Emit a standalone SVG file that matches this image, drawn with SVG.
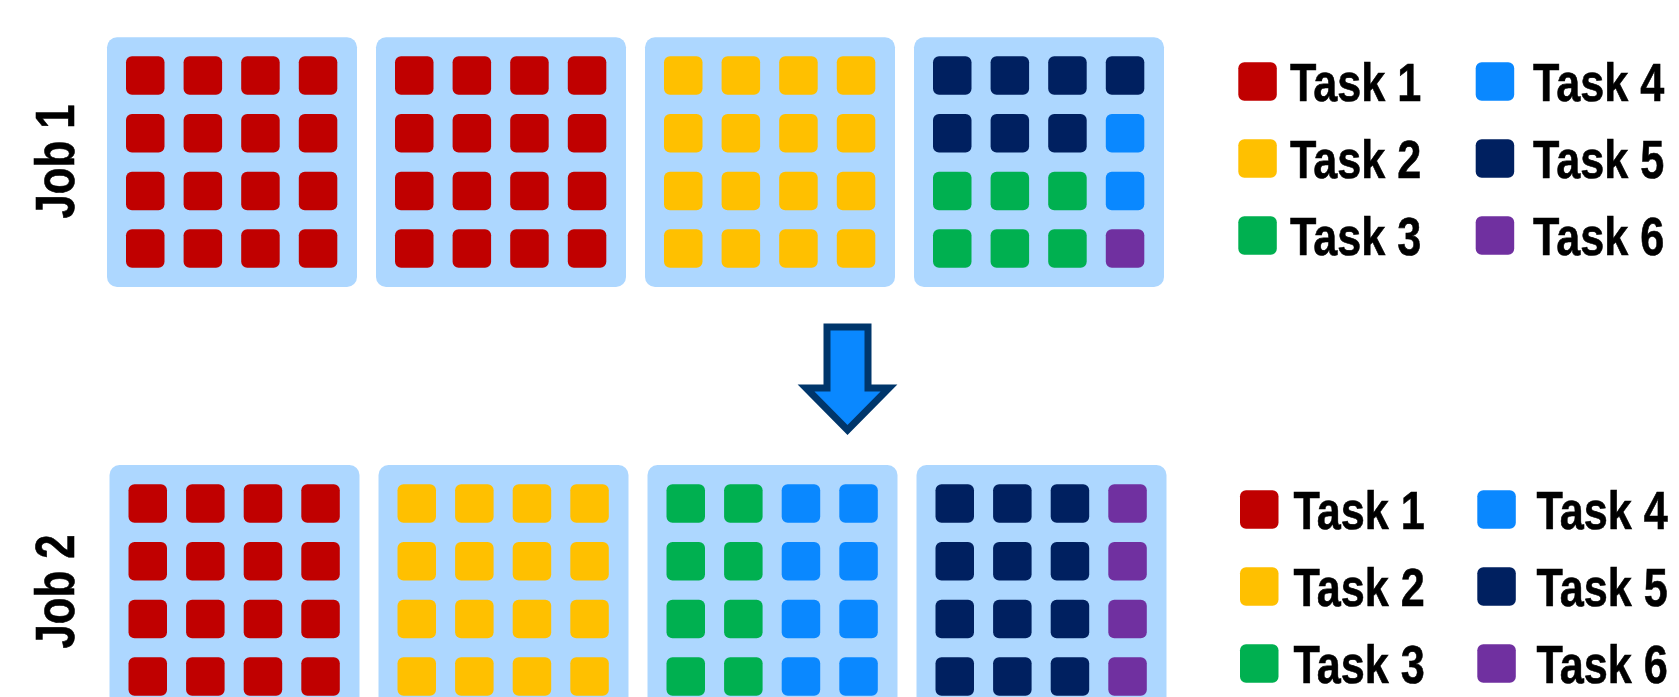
<svg xmlns="http://www.w3.org/2000/svg" width="1679" height="697" viewBox="0 0 1679 697">
<defs>
<style>
.panel{fill:#ADD7FF}
.r{fill:#C00000}.y{fill:#FFC000}.g{fill:#00B050}.b{fill:#0A88FF}.n{fill:#002060}.p{fill:#7030A0}
.lbl{font-family:"Liberation Sans",Arial,sans-serif;font-weight:bold;fill:#000;stroke:#000;stroke-width:0.6px}
.task{font-size:54px}
.job{font-size:56px}
</style>
</defs>
<rect width="1679" height="697" fill="#fff"/>

<g id="job1-label"><text class="lbl job" transform="translate(73.5,161.5) rotate(-90) scale(0.78,1)" text-anchor="middle">Job 1</text></g>
<g id="job2-label"><text class="lbl job" transform="translate(73.5,591.5) rotate(-90) scale(0.78,1)" text-anchor="middle">Job 2</text></g>

<!-- Job 1 panels -->
<g id="job1-node1" transform="translate(107,37.3)">
<rect class="panel" width="250" height="249.7" rx="10"/>
<g class="r">
<rect x="19" y="19" width="38.5" height="38.5" rx="6"/><rect x="76.6" y="19" width="38.5" height="38.5" rx="6"/><rect x="134.2" y="19" width="38.5" height="38.5" rx="6"/><rect x="191.8" y="19" width="38.5" height="38.5" rx="6"/>
<rect x="19" y="76.7" width="38.5" height="38.5" rx="6"/><rect x="76.6" y="76.7" width="38.5" height="38.5" rx="6"/><rect x="134.2" y="76.7" width="38.5" height="38.5" rx="6"/><rect x="191.8" y="76.7" width="38.5" height="38.5" rx="6"/>
<rect x="19" y="134.4" width="38.5" height="38.5" rx="6"/><rect x="76.6" y="134.4" width="38.5" height="38.5" rx="6"/><rect x="134.2" y="134.4" width="38.5" height="38.5" rx="6"/><rect x="191.8" y="134.4" width="38.5" height="38.5" rx="6"/>
<rect x="19" y="192" width="38.5" height="38.5" rx="6"/><rect x="76.6" y="192" width="38.5" height="38.5" rx="6"/><rect x="134.2" y="192" width="38.5" height="38.5" rx="6"/><rect x="191.8" y="192" width="38.5" height="38.5" rx="6"/>
</g>
</g>
<g id="job1-node2" transform="translate(376,37.3)">
<rect class="panel" width="250" height="249.7" rx="10"/>
<g class="r">
<rect x="19" y="19" width="38.5" height="38.5" rx="6"/><rect x="76.6" y="19" width="38.5" height="38.5" rx="6"/><rect x="134.2" y="19" width="38.5" height="38.5" rx="6"/><rect x="191.8" y="19" width="38.5" height="38.5" rx="6"/>
<rect x="19" y="76.7" width="38.5" height="38.5" rx="6"/><rect x="76.6" y="76.7" width="38.5" height="38.5" rx="6"/><rect x="134.2" y="76.7" width="38.5" height="38.5" rx="6"/><rect x="191.8" y="76.7" width="38.5" height="38.5" rx="6"/>
<rect x="19" y="134.4" width="38.5" height="38.5" rx="6"/><rect x="76.6" y="134.4" width="38.5" height="38.5" rx="6"/><rect x="134.2" y="134.4" width="38.5" height="38.5" rx="6"/><rect x="191.8" y="134.4" width="38.5" height="38.5" rx="6"/>
<rect x="19" y="192" width="38.5" height="38.5" rx="6"/><rect x="76.6" y="192" width="38.5" height="38.5" rx="6"/><rect x="134.2" y="192" width="38.5" height="38.5" rx="6"/><rect x="191.8" y="192" width="38.5" height="38.5" rx="6"/>
</g>
</g>
<g id="job1-node3" transform="translate(645,37.3)">
<rect class="panel" width="250" height="249.7" rx="10"/>
<g class="y">
<rect x="19" y="19" width="38.5" height="38.5" rx="6"/><rect x="76.6" y="19" width="38.5" height="38.5" rx="6"/><rect x="134.2" y="19" width="38.5" height="38.5" rx="6"/><rect x="191.8" y="19" width="38.5" height="38.5" rx="6"/>
<rect x="19" y="76.7" width="38.5" height="38.5" rx="6"/><rect x="76.6" y="76.7" width="38.5" height="38.5" rx="6"/><rect x="134.2" y="76.7" width="38.5" height="38.5" rx="6"/><rect x="191.8" y="76.7" width="38.5" height="38.5" rx="6"/>
<rect x="19" y="134.4" width="38.5" height="38.5" rx="6"/><rect x="76.6" y="134.4" width="38.5" height="38.5" rx="6"/><rect x="134.2" y="134.4" width="38.5" height="38.5" rx="6"/><rect x="191.8" y="134.4" width="38.5" height="38.5" rx="6"/>
<rect x="19" y="192" width="38.5" height="38.5" rx="6"/><rect x="76.6" y="192" width="38.5" height="38.5" rx="6"/><rect x="134.2" y="192" width="38.5" height="38.5" rx="6"/><rect x="191.8" y="192" width="38.5" height="38.5" rx="6"/>
</g>
</g>
<g id="job1-node4" transform="translate(914,37.3)">
<rect class="panel" width="250" height="249.7" rx="10"/>
<g class="n">
<rect x="19" y="19" width="38.5" height="38.5" rx="6"/><rect x="76.6" y="19" width="38.5" height="38.5" rx="6"/><rect x="134.2" y="19" width="38.5" height="38.5" rx="6"/><rect x="191.8" y="19" width="38.5" height="38.5" rx="6"/>
<rect x="19" y="76.7" width="38.5" height="38.5" rx="6"/><rect x="76.6" y="76.7" width="38.5" height="38.5" rx="6"/><rect x="134.2" y="76.7" width="38.5" height="38.5" rx="6"/>
</g>
<g class="b">
<rect x="191.8" y="76.7" width="38.5" height="38.5" rx="6"/><rect x="191.8" y="134.4" width="38.5" height="38.5" rx="6"/>
</g>
<g class="g">
<rect x="19" y="134.4" width="38.5" height="38.5" rx="6"/><rect x="76.6" y="134.4" width="38.5" height="38.5" rx="6"/><rect x="134.2" y="134.4" width="38.5" height="38.5" rx="6"/>
<rect x="19" y="192" width="38.5" height="38.5" rx="6"/><rect x="76.6" y="192" width="38.5" height="38.5" rx="6"/><rect x="134.2" y="192" width="38.5" height="38.5" rx="6"/>
</g>
<rect class="p" x="191.8" y="192" width="38.5" height="38.5" rx="6"/>
</g>

<!-- Job 2 panels -->
<g id="job2-node1" transform="translate(109.5,465)">
<rect class="panel" width="250" height="250" rx="10"/>
<g class="r">
<rect x="19" y="19.3" width="38.5" height="38.5" rx="6"/><rect x="76.6" y="19.3" width="38.5" height="38.5" rx="6"/><rect x="134.2" y="19.3" width="38.5" height="38.5" rx="6"/><rect x="191.8" y="19.3" width="38.5" height="38.5" rx="6"/>
<rect x="19" y="77" width="38.5" height="38.5" rx="6"/><rect x="76.6" y="77" width="38.5" height="38.5" rx="6"/><rect x="134.2" y="77" width="38.5" height="38.5" rx="6"/><rect x="191.8" y="77" width="38.5" height="38.5" rx="6"/>
<rect x="19" y="134.7" width="38.5" height="38.5" rx="6"/><rect x="76.6" y="134.7" width="38.5" height="38.5" rx="6"/><rect x="134.2" y="134.7" width="38.5" height="38.5" rx="6"/><rect x="191.8" y="134.7" width="38.5" height="38.5" rx="6"/>
<rect x="19" y="192.3" width="38.5" height="38.5" rx="6"/><rect x="76.6" y="192.3" width="38.5" height="38.5" rx="6"/><rect x="134.2" y="192.3" width="38.5" height="38.5" rx="6"/><rect x="191.8" y="192.3" width="38.5" height="38.5" rx="6"/>
</g>
</g>
<g id="job2-node2" transform="translate(378.5,465)">
<rect class="panel" width="250" height="250" rx="10"/>
<g class="y">
<rect x="19" y="19.3" width="38.5" height="38.5" rx="6"/><rect x="76.6" y="19.3" width="38.5" height="38.5" rx="6"/><rect x="134.2" y="19.3" width="38.5" height="38.5" rx="6"/><rect x="191.8" y="19.3" width="38.5" height="38.5" rx="6"/>
<rect x="19" y="77" width="38.5" height="38.5" rx="6"/><rect x="76.6" y="77" width="38.5" height="38.5" rx="6"/><rect x="134.2" y="77" width="38.5" height="38.5" rx="6"/><rect x="191.8" y="77" width="38.5" height="38.5" rx="6"/>
<rect x="19" y="134.7" width="38.5" height="38.5" rx="6"/><rect x="76.6" y="134.7" width="38.5" height="38.5" rx="6"/><rect x="134.2" y="134.7" width="38.5" height="38.5" rx="6"/><rect x="191.8" y="134.7" width="38.5" height="38.5" rx="6"/>
<rect x="19" y="192.3" width="38.5" height="38.5" rx="6"/><rect x="76.6" y="192.3" width="38.5" height="38.5" rx="6"/><rect x="134.2" y="192.3" width="38.5" height="38.5" rx="6"/><rect x="191.8" y="192.3" width="38.5" height="38.5" rx="6"/>
</g>
</g>
<g id="job2-node3" transform="translate(647.5,465)">
<rect class="panel" width="250" height="250" rx="10"/>
<g class="g">
<rect x="19" y="19.3" width="38.5" height="38.5" rx="6"/><rect x="76.6" y="19.3" width="38.5" height="38.5" rx="6"/>
<rect x="19" y="77" width="38.5" height="38.5" rx="6"/><rect x="76.6" y="77" width="38.5" height="38.5" rx="6"/>
<rect x="19" y="134.7" width="38.5" height="38.5" rx="6"/><rect x="76.6" y="134.7" width="38.5" height="38.5" rx="6"/>
<rect x="19" y="192.3" width="38.5" height="38.5" rx="6"/><rect x="76.6" y="192.3" width="38.5" height="38.5" rx="6"/>
</g>
<g class="b">
<rect x="134.2" y="19.3" width="38.5" height="38.5" rx="6"/><rect x="191.8" y="19.3" width="38.5" height="38.5" rx="6"/>
<rect x="134.2" y="77" width="38.5" height="38.5" rx="6"/><rect x="191.8" y="77" width="38.5" height="38.5" rx="6"/>
<rect x="134.2" y="134.7" width="38.5" height="38.5" rx="6"/><rect x="191.8" y="134.7" width="38.5" height="38.5" rx="6"/>
<rect x="134.2" y="192.3" width="38.5" height="38.5" rx="6"/><rect x="191.8" y="192.3" width="38.5" height="38.5" rx="6"/>
</g>
</g>
<g id="job2-node4" transform="translate(916.5,465)">
<rect class="panel" width="250" height="250" rx="10"/>
<g class="n">
<rect x="19" y="19.3" width="38.5" height="38.5" rx="6"/><rect x="76.6" y="19.3" width="38.5" height="38.5" rx="6"/><rect x="134.2" y="19.3" width="38.5" height="38.5" rx="6"/>
<rect x="19" y="77" width="38.5" height="38.5" rx="6"/><rect x="76.6" y="77" width="38.5" height="38.5" rx="6"/><rect x="134.2" y="77" width="38.5" height="38.5" rx="6"/>
<rect x="19" y="134.7" width="38.5" height="38.5" rx="6"/><rect x="76.6" y="134.7" width="38.5" height="38.5" rx="6"/><rect x="134.2" y="134.7" width="38.5" height="38.5" rx="6"/>
<rect x="19" y="192.3" width="38.5" height="38.5" rx="6"/><rect x="76.6" y="192.3" width="38.5" height="38.5" rx="6"/><rect x="134.2" y="192.3" width="38.5" height="38.5" rx="6"/>
</g>
<g class="p">
<rect x="191.8" y="19.3" width="38.5" height="38.5" rx="6"/><rect x="191.8" y="77" width="38.5" height="38.5" rx="6"/><rect x="191.8" y="134.7" width="38.5" height="38.5" rx="6"/><rect x="191.8" y="192.3" width="38.5" height="38.5" rx="6"/>
</g>
</g>

<!-- Legend Job 1 -->
<g id="legend1">
<g id="legend1-task1"><rect class="r" x="1238.3" y="62.3" width="38.5" height="38.5" rx="6"/><text class="lbl task" transform="translate(1290,100.7) scale(0.8,1)">Task 1</text></g>
<g id="legend1-task2"><rect class="y" x="1238.3" y="139.3" width="38.5" height="38.5" rx="6"/><text class="lbl task" transform="translate(1290,177.7) scale(0.8,1)">Task 2</text></g>
<g id="legend1-task3"><rect class="g" x="1238.3" y="216.3" width="38.5" height="38.5" rx="6"/><text class="lbl task" transform="translate(1290,254.7) scale(0.8,1)">Task 3</text></g>
<g id="legend1-task4"><rect class="b" x="1475.7" y="62.3" width="38.5" height="38.5" rx="6"/><text class="lbl task" transform="translate(1533,100.7) scale(0.8,1)">Task 4</text></g>
<g id="legend1-task5"><rect class="n" x="1475.7" y="139.3" width="38.5" height="38.5" rx="6"/><text class="lbl task" transform="translate(1533,177.7) scale(0.8,1)">Task 5</text></g>
<g id="legend1-task6"><rect class="p" x="1475.7" y="216.3" width="38.5" height="38.5" rx="6"/><text class="lbl task" transform="translate(1533,254.7) scale(0.8,1)">Task 6</text></g>
</g>

<!-- Legend Job 2 -->
<g id="legend2">
<g id="legend2-task1"><rect class="r" x="1240" y="490.3" width="38.5" height="38.5" rx="6"/><text class="lbl task" transform="translate(1293.5,528.7) scale(0.8,1)">Task 1</text></g>
<g id="legend2-task2"><rect class="y" x="1240" y="567.3" width="38.5" height="38.5" rx="6"/><text class="lbl task" transform="translate(1293.5,605.7) scale(0.8,1)">Task 2</text></g>
<g id="legend2-task3"><rect class="g" x="1240" y="644.3" width="38.5" height="38.5" rx="6"/><text class="lbl task" transform="translate(1293.5,682.7) scale(0.8,1)">Task 3</text></g>
<g id="legend2-task4"><rect class="b" x="1477.3" y="490.3" width="38.5" height="38.5" rx="6"/><text class="lbl task" transform="translate(1536.5,528.7) scale(0.8,1)">Task 4</text></g>
<g id="legend2-task5"><rect class="n" x="1477.3" y="567.3" width="38.5" height="38.5" rx="6"/><text class="lbl task" transform="translate(1536.5,605.7) scale(0.8,1)">Task 5</text></g>
<g id="legend2-task6"><rect class="p" x="1477.3" y="644.3" width="38.5" height="38.5" rx="6"/><text class="lbl task" transform="translate(1536.5,682.7) scale(0.8,1)">Task 6</text></g>
</g>

<g id="connectors">
<path d="M827,327 H868 V388 H889 L847.5,430 L806,388 H827 Z" fill="#0A88FF" stroke="#00366B" stroke-width="7" stroke-linejoin="miter"/>
</g>
</svg>
